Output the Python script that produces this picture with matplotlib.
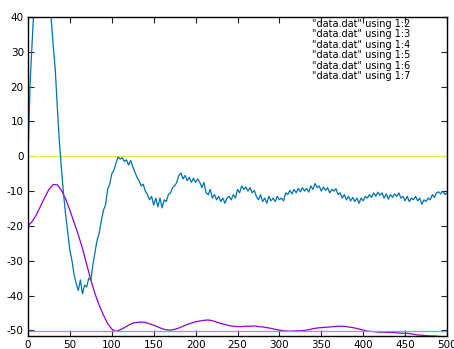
import matplotlib
matplotlib.use('Agg')
import matplotlib.pyplot as plt
import numpy as np

plt.rcParams['axes.unicode_minus'] = False
plt.rcParams['font.family'] = 'DejaVu Sans'

# column 2 (purple), sampled every 5
x_col2 = np.arange(0, 501, 5)
col2 = [-20, -18.7, -16.8, -14.3, -11.8, -9.5, -8.1, -8.2, -9.8, -12.3,
        -15.5, -19, -22.5, -26.5, -31, -35.5, -39.5, -42.8, -45.6, -48,
        -49.6, -50.3, -49.8, -49.2, -48.5, -47.9, -47.7, -47.6, -47.7, -48.1,
        -48.5, -49, -49.5, -49.8, -49.9, -49.7, -49.3, -48.8, -48.3, -47.9,
        -47.5, -47.3, -47.1, -47.0, -47.2, -47.6, -48, -48.3, -48.6, -48.8,
        -48.9, -48.9, -48.8, -48.8, -48.7, -48.9, -49, -49.2, -49.4, -49.7,
        -49.9, -50.1, -50.2, -50.2, -50.1, -50.1, -50, -49.8, -49.5, -49.3,
        -49.2, -49.1, -49, -48.9, -48.8, -48.8, -48.9, -49.1, -49.3, -49.6,
        -49.9, -50.2, -50.3, -50.4, -50.5, -50.5, -50.6, -50.6, -50.7, -50.8,
        -50.8, -50.9, -51.1, -51.3, -51.4, -51.5, -51.6, -51.6, -51.7, -51.8,
        -51.8]

# columns 3 and 5 are off scale, 4 and 6 are flat
col3 = 60.0
col4 = -50.3
col5 = 60.0
col6 = 0.0

# column 7 (blue, noisy), sampled every 2.5
x_col7 = np.arange(0, 500.1, 2.5)
col7 = [0, 21, 33, 45, 52, 56, 58, 58, 56, 52,
        47, 40, 32, 25, 14, 4, -4, -11, -17, -22,
        -27, -30, -34, -36.5, -38.5, -35.5, -39.5, -37, -37.5, -35,
        -35.5, -31, -27.5, -24, -22, -18.5, -15.5, -14, -9.5, -8,
        -5, -4, -2, -0.2, -0.8, -0.4, -1.5, -1, -2.5, -1.2,
        -3, -4.5, -6, -7, -8.5, -8, -10, -11, -12.5, -11.5,
        -14, -12, -14.5, -12, -14.8, -12.5, -13, -11, -10.5, -9,
        -8.5, -7.5, -5.5, -4.8, -6.5, -5.5, -7, -6, -7.5, -6.3,
        -7.5, -6.5, -7.5, -9, -7.5, -10.5, -11, -9.5, -12, -11,
        -12.5, -11.5, -13, -12, -13.5, -12, -11.5, -12.5, -11, -12,
        -9.5, -10.5, -8.5, -9.5, -8.8, -10, -9, -10.5, -9.8, -11.5,
        -12.5, -11, -13, -12, -13.5, -11.5, -12.8, -12, -13, -11.5,
        -12.5, -12, -12.8, -10.5, -11, -9.8, -10.8, -9.5, -10.5, -9.2,
        -10.2, -9, -10, -9.2, -10.3, -8.5, -9.5, -7.8, -9, -8.5,
        -10, -8.8, -9.8, -9, -10.5, -9.5, -10, -9.3, -11, -10.5,
        -12, -11, -12.5, -11.5, -12.8, -11.8, -13, -12, -13.5, -12,
        -12.8, -11.5, -12, -11, -11.8, -10.5, -11.5, -10.3, -11.2, -10.5,
        -12, -10.8, -12.3, -11, -11.8, -10.8, -11.5, -10.5, -12, -11.5,
        -12.8, -11.5, -13, -12, -12.5, -11.5, -12.8, -12, -13.8, -12.5,
        -13, -12, -12.5, -11, -11.8, -10.5, -10.2, -10.8, -10, -11,
        -10.5]

labels = ['"data.dat" using 1:2', '"data.dat" using 1:3', '"data.dat" using 1:4',
          '"data.dat" using 1:5', '"data.dat" using 1:6', '"data.dat" using 1:7']

fig = plt.figure(figsize=(4.54, 3.49), dpi=100)
ax = fig.add_axes([28/454, 1 - 336/349, 419/454, 319/349])

xs = [0, 500]
ax.plot(x_col2, col2, color='#9400d3', lw=0.9)
ax.plot(xs, [col3, col3], color='#009e73', lw=0.9)
ax.plot(xs, [col4, col4], color='#56b4e9', lw=0.9)
ax.plot(xs, [col5, col5], color='#e69f00', lw=0.9)
ax.plot(xs, [col6, col6], color='#f0e442', lw=0.9)
ax.plot(x_col7, col7, color='#0072b2', lw=0.9)

ax.set_xlim(0, 500)
ax.set_ylim(-51.6, 40)
ax.set_xticks(range(0, 501, 50))
ax.set_yticks(range(-50, 41, 10))
ax.tick_params(direction='in', length=4, width=0.8, top=True, right=True,
               labelsize=7.5, colors='#222222', pad=3)
ax.tick_params(labelcolor='black')
for s in ax.spines.values():
    s.set_linewidth(1.0)

# key, text only
for i, lab in enumerate(labels):
    fig.text(410/454, 1 - (24 + i*10.4)/349, lab, ha='right', va='center', fontsize=7)

fig.savefig('out.png', dpi=100)
